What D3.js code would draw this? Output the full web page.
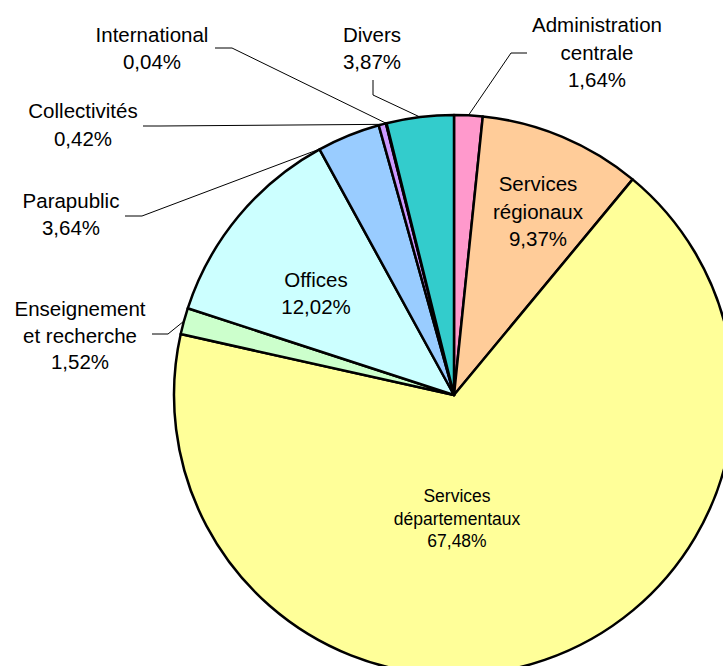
<!DOCTYPE html>
<html lang="fr">
<head>
<meta charset="UTF-8">
<title>Répartition</title>
<script src="https://d3js.org/d3.v7.min.js"></script>
<style>
  body { margin: 0; background: #ffffff; }
  svg { display: block; }
  text { font-family: "Liberation Sans", Arial, sans-serif; fill: #000; }
</style>
</head>
<body>
<svg width="723" height="666"></svg>
<script>
// slices, clockwise from 12 o'clock
const categories = ["Administration centrale", "Services régionaux", "Services départementaux",
  "Enseignement et recherche", "Offices", "Parapublic", "Collectivités", "International", "Divers"];
const values = [1.64, 9.37, 67.48, 1.52, 12.02, 3.64, 0.42, 0.04, 3.87];
const colors = ["#FF99CC", "#FFCC99", "#FFFF99", "#CCFFCC", "#CCFFFF", "#99CCFF", "#CC99FF", "#FF8080", "#33CCCC"];

// label text lines, position (centre x, first baseline) and leader line for outside labels
const labelLines = [
  ["Administration", "centrale"], ["Services", "régionaux"], ["Services", "départementaux"],
  ["Enseignement", "et recherche"], ["Offices"], ["Parapublic"], ["Collectivités"], ["International"], ["Divers"]
];
const labelPos = [[597, 32], [538, 191], [457, 502], [80, 316], [316, 287], [71, 208], [83, 118], [152, 42], [372, 42]];
const labelSize = [20.5, 20.5, 17.5, 20.5, 20.5, 20.5, 20.5, 20.5, 20.5];
const lineGap = [27.5, 27.5, 22.5, 26.5, 27, 27, 27.5, 27, 27];
// leader: elbow points then fraction of slice where it touches the rim
const leaders = [
  { pts: [[527, 53], [511, 53]], f: 0.5 },
  null, null,
  { pts: [[152, 334], [168, 334]], f: 0.5 },
  null,
  { pts: [[125, 216], [142, 216]], f: 0.03 },
  { pts: [[143, 126], [160, 126]], f: 0.5 },
  { pts: [[215, 48], [232, 48]], f: 0.5 },
  { pts: [[373, 80], [373, 95]], f: 0.5 }
];

const cx = 454, cy = 395, r = 280;
const svg = d3.select("svg");
const g = svg.append("g").attr("transform", `translate(${cx},${cy})`);

const pie = d3.pie().sort(null).value(d => d)(values);
const arc = d3.arc().innerRadius(0).outerRadius(r);

g.selectAll("path.slice")
  .data(pie)
  .enter().append("path")
  .attr("class", "slice")
  .attr("d", arc)
  .attr("fill", (d, i) => colors[i])
  .attr("stroke", "#000")
  .attr("stroke-width", 2.5)
  .attr("stroke-linejoin", "round");

// leader lines
pie.forEach((d, i) => {
  const L = leaders[i];
  if (!L) return;
  const a = d.startAngle + (d.endAngle - d.startAngle) * L.f;
  const end = [cx + r * Math.sin(a), cy - r * Math.cos(a)];
  svg.append("path")
    .attr("d", d3.line()(L.pts.concat([end])))
    .attr("fill", "none")
    .attr("stroke", "#000")
    .attr("stroke-width", 1);
});

// labels
const fmt = v => v.toFixed(2).replace(".", ",") + "%";
categories.forEach((c, i) => {
  const [x, y] = labelPos[i];
  const lines = labelLines[i].concat([fmt(values[i])]);
  const t = svg.append("text")
    .attr("text-anchor", "middle")
    .attr("font-size", labelSize[i] + "px");
  lines.forEach((ln, k) => {
    t.append("tspan").attr("x", x).attr("y", y + k * lineGap[i]).text(ln);
  });
});
</script>
</body>
</html>
